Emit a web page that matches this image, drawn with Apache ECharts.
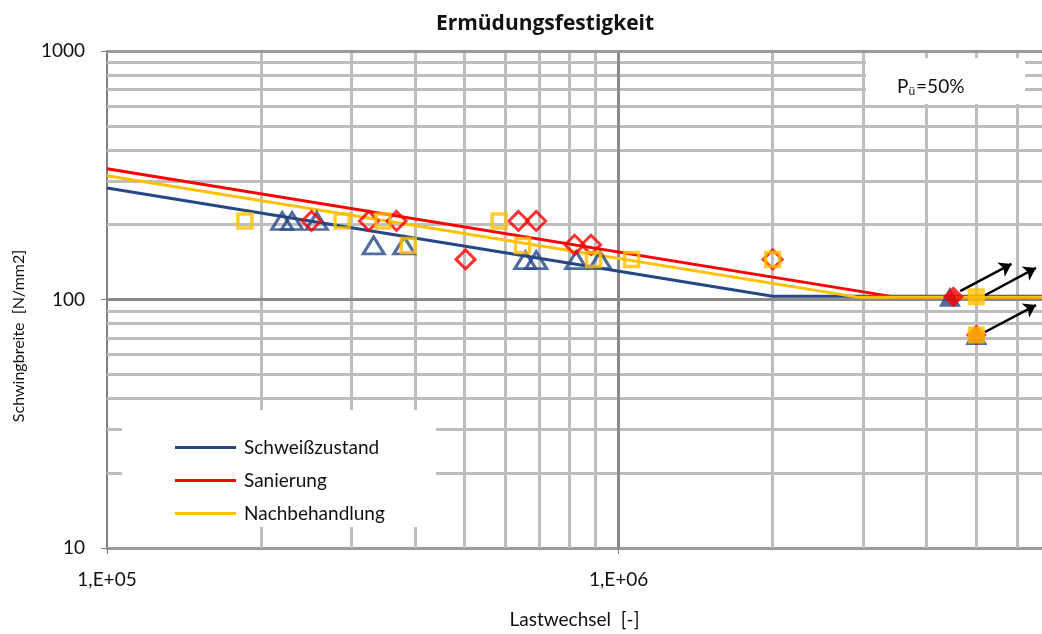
<!DOCTYPE html>
<html>
<head>
<meta charset="utf-8">
<script src="https://cdn.jsdelivr.net/npm/echarts@6/dist/echarts.min.js"></script>
<style>
html,body{margin:0;padding:0;background:#fff;}
#chart{width:1042px;height:634px;}
</style>
</head>
<body>
<div id="chart"></div>
<script>
// ---- data ----
const seriesNames = ['Schweißzustand', 'Sanierung', 'Nachbehandlung'];
// S-N curves [cycles, stress range]
const schweissCurve = [[1e5, 281], [2e6, 103], [7e6, 103]];
const sanierungCurve = [[1e5, 336], [3.5e6, 102], [7e6, 102]];
const nachCurve = [[1e5, 315], [2.95e6, 102], [7e6, 102]];
// test results (failures)
const schweissTests = [[2.2e5, 207], [2.3e5, 207], [2.57e5, 207], [3.32e5, 165], [3.81e5, 165], [6.57e5, 144], [6.9e5, 144], [8.26e5, 144], [9.2e5, 144]];
const sanierungTests = [[2.51e5, 207], [3.25e5, 207], [3.68e5, 207], [5.02e5, 145], [6.37e5, 207], [6.9e5, 207], [8.2e5, 166], [8.83e5, 166], [2e6, 145]];
const nachTests = [[1.86e5, 207], [2.88e5, 207], [3.46e5, 207], [3.88e5, 165], [5.84e5, 207], [6.49e5, 165], [8.93e5, 145], [1.06e6, 145], [2e6, 145]];
// run-outs
const schweissRunouts = [[4.44e6, 102.5], [5e6, 72]];
const sanierungRunouts = [[4.51e6, 102.5], [5e6, 72]];
const nachRunouts = [[5e6, 102.5], [5e6, 72]];
// run-out arrows [start, end]
const runoutArrows = [
  [[4.65e6, 108], [5.86e6, 139]],
  [[5.2e6, 104], [6.54e6, 134]],
  [[5.2e6, 74], [6.54e6, 95]]
];
// axes
const xTickValues = [1e5, 1e6];
const xTickLabels = ['1,E+05', '1,E+06'];
const yTickValues = [10, 100, 1000];
const yTickLabels = ['10', '100', '1000'];
const xMinorGrid = [2e5, 3e5, 4e5, 5e5, 6e5, 7e5, 8e5, 9e5, 2e6, 3e6, 4e6, 5e6, 6e6];
const yMinorGrid = [20, 30, 40, 50, 60, 70, 80, 90, 200, 300, 400, 500, 600, 700, 800, 900];
const xMajorGrid = [1e6];
const yMajorGrid = [100];
const yTopGrid = [1000];
const xRange = [1e5, 6.72e6];
const yRange = [10, 1000];
const xTitle = 'Lastwechsel  [-]';
const yTitle = 'Schwingbreite  [N/mm2]';

// ---- chart ----
const FONT = 'Lato';
const C_BLUE = '#264786', C_RED = '#FF0000', C_YEL = '#FFC000';
const chart = echarts.init(document.getElementById('chart'), null, {renderer: 'canvas'});

function vLines(vals) { return vals.map(v => ({coords: [[v, yRange[0]], [v, yRange[1]]]})); }
function hLines(vals) { return vals.map(v => ({coords: [[xRange[0], v], [xRange[1], v]]})); }
function labelOf(vals, labels) {
  return function (v) {
    for (let i = 0; i < vals.length; i++) {
      if (Math.abs(Math.log10(v) - Math.log10(vals[i])) < 1e-6) return labels[i];
    }
    return '';
  };
}

const option = {
  backgroundColor: '#ffffff',
  animation: false,
  title: [
    {
      text: 'Ermüdungsfestigkeit',
      left: 540, top: 9, textAlign: 'center',
      textStyle: {fontFamily: 'Open Sans', fontSize: 21, fontWeight: 'bold', color: '#111'}
    },
    {
      text: '{a|P}{b|ü}{a|=50%}',
      left: 892, top: 72,
      textStyle: {
        fontWeight: 'normal',
        rich: {
          a: {fontFamily: FONT, fontSize: 19, fontWeight: 'normal', color: '#111'},
          b: {fontFamily: FONT, fontSize: 12, fontWeight: 'normal', color: '#111', padding: [8, 1, 0, 0]}
        }
      }
    }
  ],
  grid: {left: 107, right: 0, top: 51, bottom: 83, containLabel: false},
  legend: {
    data: seriesNames,
    left: 170, top: 432,
    orient: 'vertical',
    icon: 'rect',
    itemWidth: 61, itemHeight: 3,
    itemGap: 12,
    z: 6,
    textStyle: {fontFamily: FONT, fontSize: 19, color: '#111', lineHeight: 21, padding: [0, 0, 0, 3]}
  },
  graphic: [
    {type: 'rect', z: 5, shape: {x: 122, y: 410, width: 314, height: 117}, style: {fill: '#ffffff'}},
    {type: 'rect', z: 5, shape: {x: 866, y: 58, width: 159, height: 46}, style: {fill: '#ffffff'}},
    {type: 'text', z: 5, x: 19, y: 336, rotation: Math.PI / 2,
      style: {text: yTitle, fontFamily: FONT, fontSize: 16, fill: '#111', align: 'center', verticalAlign: 'middle'}}
  ],
  xAxis: {
    type: 'log', logBase: 10, min: xRange[0], max: xRange[1],
    name: xTitle, nameLocation: 'middle', nameGap: 62,
    nameTextStyle: {fontFamily: FONT, fontSize: 19, color: '#111'},
    axisLine: {lineStyle: {color: '#9A9A9A', width: 3}},
    axisTick: {show: true, length: 6, lineStyle: {color: '#808080', width: 1}},
    axisLabel: {fontFamily: FONT, fontSize: 19, color: '#111', margin: 22, showMaxLabel: false,
      formatter: labelOf(xTickValues, xTickLabels)},
    splitLine: {show: false}
  },
  yAxis: {
    type: 'log', logBase: 10, min: yRange[0], max: yRange[1],
    axisLine: {lineStyle: {color: '#808080', width: 2}},
    axisTick: {show: true, length: 6, lineStyle: {color: '#808080', width: 1}},
    axisLabel: {fontFamily: FONT, fontSize: 19, color: '#111', margin: 22,
      formatter: labelOf(yTickValues, yTickLabels)},
    splitLine: {show: false}
  },
  series: [
    {
      name: 'gridMinor', type: 'lines', coordinateSystem: 'cartesian2d', z: 1, silent: true,
      lineStyle: {color: '#BEBEBE', width: 3, opacity: 1},
      data: vLines(xMinorGrid).concat(hLines(yMinorGrid))
    },
    {
      name: 'gridMajor', type: 'lines', coordinateSystem: 'cartesian2d', z: 1, silent: true,
      lineStyle: {color: '#8A8A8A', width: 3, opacity: 1},
      data: vLines(xMajorGrid).concat(hLines(yMajorGrid))
    },
    {
      name: 'gridTop', type: 'lines', coordinateSystem: 'cartesian2d', z: 1, silent: true,
      lineStyle: {color: '#9A9A9A', width: 3, opacity: 1},
      data: hLines(yTopGrid)
    },
    {name: seriesNames[0], type: 'line', data: schweissCurve, symbol: 'none', z: 2,
      color: C_BLUE, lineStyle: {color: C_BLUE, width: 3}},
    {name: seriesNames[1], type: 'line', data: sanierungCurve, symbol: 'none', z: 2,
      color: C_RED, lineStyle: {color: C_RED, width: 3}},
    {name: seriesNames[2], type: 'line', data: nachCurve, symbol: 'none', z: 2,
      color: C_YEL, lineStyle: {color: C_YEL, width: 3}},
    {name: 'Schweißzustand Versuch', type: 'scatter', data: schweissTests, z: 3,
      symbol: 'triangle', symbolSize: [21, 17],
      itemStyle: {color: 'rgba(0,0,0,0)', borderColor: C_BLUE, borderWidth: 3}},
    {name: 'Sanierung Versuch', type: 'scatter', data: sanierungTests, z: 3,
      symbol: 'diamond', symbolSize: [19, 19],
      itemStyle: {color: 'rgba(0,0,0,0)', borderColor: C_RED, borderWidth: 3}},
    {name: 'Nachbehandlung Versuch', type: 'scatter', data: nachTests, z: 3,
      symbol: 'rect', symbolSize: [14, 14],
      itemStyle: {color: 'rgba(0,0,0,0)', borderColor: C_YEL, borderWidth: 3.5}},
    {name: 'Schweißzustand Durchläufer', type: 'scatter', data: schweissRunouts, z: 3,
      symbol: 'triangle', symbolSize: [22, 20],
      itemStyle: {color: C_BLUE}},
    {name: 'Sanierung Durchläufer', type: 'scatter', data: sanierungRunouts, z: 3,
      symbol: 'diamond', symbolSize: [21, 21],
      itemStyle: {color: C_RED}},
    {name: 'Nachbehandlung Durchläufer', type: 'scatter', data: nachRunouts, z: 3,
      symbol: 'rect', symbolSize: [17, 17],
      itemStyle: {color: C_YEL}},
    {name: 'Pfeile', type: 'lines', coordinateSystem: 'cartesian2d', z: 4, silent: true,
      symbol: ['none', 'arrow'], symbolSize: 12,
      lineStyle: {color: '#000', width: 2.5, opacity: 1},
      data: runoutArrows.map(a => ({coords: a}))}
  ]
};
chart.setOption(option);
</script>
</body>
</html>
